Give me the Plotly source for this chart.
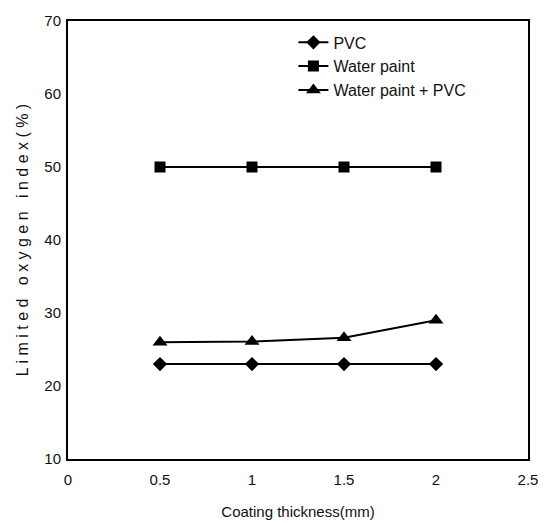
import plotly.graph_objects as go

thickness = [0.5, 1.0, 1.5, 2.0]
pvc = [23, 23, 23, 23]
water_paint = [50, 50, 50, 50]
water_paint_pvc = [26, 26.1, 26.6, 29]

x_ticks = [0, 0.5, 1, 1.5, 2, 2.5]
x_tick_labels = ["0", "0.5", "1", "1.5", "2", "2.5"]
y_ticks = [10, 20, 30, 40, 50, 60, 70]

fig = go.Figure()
series = [
    ("PVC", pvc, "diamond", 11),
    ("Water paint", water_paint, "square", 11),
    ("Water paint + PVC", water_paint_pvc, "triangle-up", 13),
]
for name, ys, sym, sz in series:
    fig.add_trace(go.Scatter(
        x=thickness, y=ys, name=name, mode="lines+markers",
        line=dict(color="black", width=2),
        marker=dict(symbol=sym, size=sz, color="black"),
    ))

axis_font = dict(family="Arial, Liberation Sans, sans-serif", size=15, color="#111")
fig.update_layout(
    width=550, height=523,
    margin=dict(l=68, r=22, t=12, b=64),
    paper_bgcolor="white", plot_bgcolor="white",
    font=axis_font,
    showlegend=True,
    legend=dict(x=0.49, y=0.99, xanchor="left", yanchor="top",
                bgcolor="rgba(0,0,0,0)", font=dict(size=16, color="#111"),
                tracegroupgap=0),
    xaxis=dict(range=[0, 2.5], tickvals=x_ticks, ticktext=x_tick_labels,
               showgrid=False, zeroline=False, showline=True, linecolor="black",
               linewidth=2, mirror=True, ticks="outside", ticklen=6,
               tickcolor="rgba(0,0,0,0)", automargin=False,
               title=dict(text="Coating thickness(mm)", standoff=19,
                          font=dict(size=15, color="#111"))),
    yaxis=dict(range=[10, 70], tickvals=y_ticks,
               showgrid=False, zeroline=False, showline=True, linecolor="black",
               linewidth=2, mirror=True, ticks="outside", ticklen=2,
               tickcolor="rgba(0,0,0,0)",
               title=dict(text="L i m i t e d   o x y g e n   i n d e x ( % )", standoff=12,
                          font=dict(size=16, color="#111"))),
)

fig.write_html("out.html")
